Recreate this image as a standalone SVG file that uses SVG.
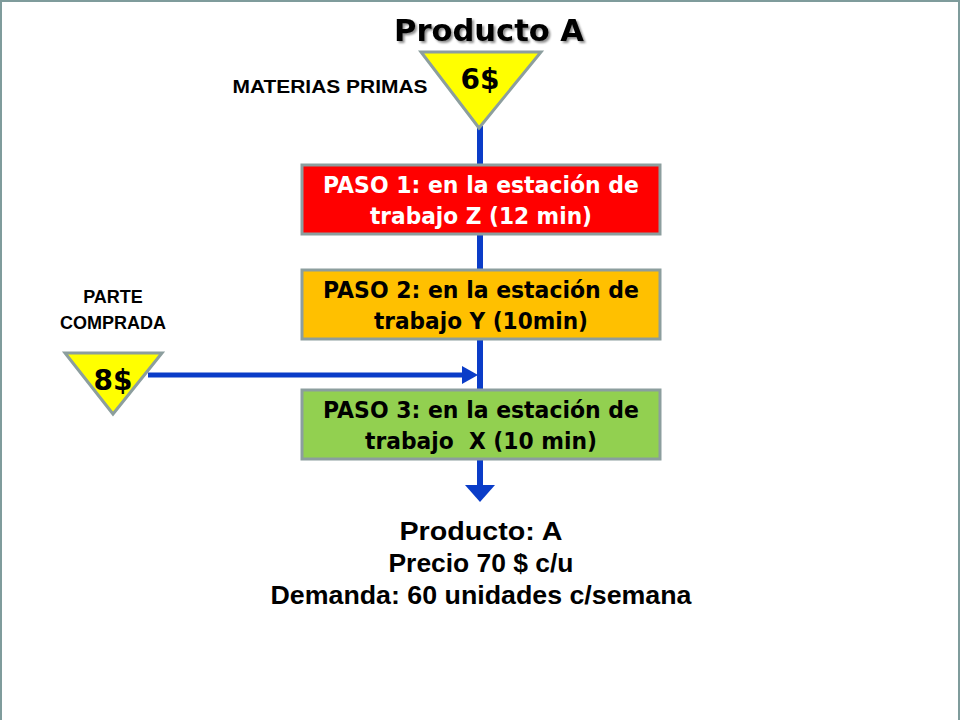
<svg xmlns="http://www.w3.org/2000/svg" width="960" height="720" viewBox="0 0 960 720">
<defs>
<style>
.box{stroke:#8c9e9e;stroke-width:3}
.tri{fill:#ffff00;stroke:#8c9e9e;stroke-width:3}
.bt{font-family:"DejaVu Sans",Verdana,sans-serif;font-weight:bold;font-size:23px;text-anchor:middle}
.lbl{font-family:"Liberation Sans",Arial,sans-serif;font-weight:bold;font-size:18px;text-anchor:middle;fill:#000}
.big{font-family:"Liberation Sans",Arial,sans-serif;font-weight:bold;font-size:25px;text-anchor:middle;fill:#000}
.cost{font-family:"DejaVu Sans",Verdana,sans-serif;font-weight:bold;font-size:28px;text-anchor:middle;fill:#000}
.flow{stroke:#0a3cc8;fill:none}
</style>
<filter id="sh" x="-10%" y="-10%" width="130%" height="140%">
<feGaussianBlur in="SourceAlpha" stdDeviation="1.2"/>
<feOffset dx="2" dy="2" result="o"/>
<feFlood flood-color="#000" flood-opacity="0.45"/>
<feComposite in2="o" operator="in"/>
<feMerge><feMergeNode/><feMergeNode in="SourceGraphic"/></feMerge>
</filter>
</defs>
<rect x="0" y="0" width="960" height="720" fill="#ffffff"/>
<rect x="1" y="1" width="958" height="720" fill="none" stroke="#7f9c9c" stroke-width="2"/>

<text id="title" x="489" y="41" filter="url(#sh)" textLength="190" lengthAdjust="spacingAndGlyphs" style="font-family:'DejaVu Sans',Verdana,sans-serif;font-weight:bold;font-size:31px;text-anchor:middle;fill:#000">Producto A</text>

<g id="connectors">
<line class="flow" x1="480" y1="126" x2="480" y2="486" stroke-width="6"/>
<polygon points="465,485 495,485 480,502" fill="#0a3cc8"/>
<line class="flow" x1="148" y1="375" x2="464" y2="375" stroke-width="5"/>
<polygon points="462,366 478,375 462,384" fill="#0a3cc8"/>
</g>

<g id="materias-primas">
<polygon class="tri" points="421,52 541,52 479,128"/>
<text class="cost" x="480" y="89">6$</text>
<text class="lbl" x="330" y="93" textLength="195" lengthAdjust="spacingAndGlyphs">MATERIAS PRIMAS</text>
</g>

<g id="paso1">
<rect class="box" x="302" y="165" width="358" height="69" fill="#ff0000"/>
<text class="bt" x="481" y="193" fill="#ffffff" textLength="316" lengthAdjust="spacingAndGlyphs">PASO 1: en la estación de</text>
<text class="bt" x="481" y="224" fill="#ffffff" textLength="222" lengthAdjust="spacingAndGlyphs">trabajo Z (12 min)</text>
</g>

<g id="paso2">
<rect class="box" x="302" y="270" width="358" height="69" fill="#ffc000"/>
<text class="bt" x="481" y="298" fill="#000" textLength="316" lengthAdjust="spacingAndGlyphs">PASO 2: en la estación de</text>
<text class="bt" x="481" y="329" fill="#000" textLength="214" lengthAdjust="spacingAndGlyphs">trabajo Y (10min)</text>
</g>

<g id="paso3">
<rect class="box" x="302" y="390" width="358" height="69" fill="#92d050"/>
<text class="bt" x="481" y="418" fill="#000" textLength="316" lengthAdjust="spacingAndGlyphs">PASO 3: en la estación de</text>
<text class="bt" x="481" y="449" fill="#000" xml:space="preserve" textLength="232" lengthAdjust="spacingAndGlyphs">trabajo  X (10 min)</text>
</g>

<g id="parte-comprada">
<text class="lbl" x="113" y="303">PARTE</text>
<text class="lbl" x="113" y="329">COMPRADA</text>
<polygon class="tri" points="65,353 162,353 113,414"/>
<text class="cost" x="113" y="390">8$</text>
</g>

<g id="producto">
<text class="big" x="481" y="540" textLength="163" lengthAdjust="spacingAndGlyphs">Producto: A</text>
<text class="big" x="481" y="572" textLength="185" lengthAdjust="spacingAndGlyphs">Precio 70 $ c/u</text>
<text class="big" x="481" y="604" textLength="421" lengthAdjust="spacingAndGlyphs">Demanda: 60 unidades c/semana</text>
</g>
</svg>
